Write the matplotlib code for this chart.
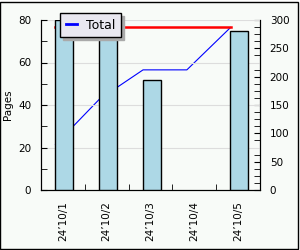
import matplotlib.pyplot as plt
from matplotlib.patches import Rectangle
from matplotlib.ticker import MultipleLocator

days = ["24\u201910/1", "24\u201910/2", "24\u201910/3", "24\u201910/4", "24\u201910/5"]
pages = [80, 80, 52, 0, 75]
total = [80, 160, 212, 212, 287]
goal = [287, 287, 287, 287, 287]

fig = plt.figure(figsize=(3, 2.5), dpi=100)
fig.patch.set_facecolor('white')
fig.patches.append(Rectangle((0.0015, 0.006), 298 / 300, 247 / 250, transform=fig.transFigure,
                             facecolor='#f8fbf8', edgecolor='black', linewidth=1, zorder=-10))

ax = fig.add_axes([41 / 300, 1 - 190 / 250, 219 / 300, 170 / 250])
ax2 = ax.twinx()
ax.set_zorder(ax2.get_zorder() + 1)
ax.patch.set_visible(False)
ax2.patch.set_facecolor('white')

x = list(range(len(days)))
xl = [i - 0.17 for i in x]

ax2.plot(xl, total, color='blue', linewidth=0.8)
ax2.plot(xl, goal, color='red', linewidth=1.8)
ax2.set_ylim(0, 300)

bars = ax.bar([i + 0.03 for i in x], pages, width=0.41, color='#add8e6', edgecolor='black', linewidth=1, zorder=3)
for b, v in zip(bars, pages):
    if v == 0:
        b.set_visible(False)
ax.set_ylim(0, 80)
ax.set_xlim(-0.5, 4.5)

ax.set_yticks([0, 20, 40, 60, 80])
ax.yaxis.set_minor_locator(MultipleLocator(10))
ax2.set_yticks([0, 50, 100, 150, 200, 250, 300])
ax2.yaxis.set_minor_locator(MultipleLocator(12.5))
ax.grid(axis='y', color='#dddddd', linewidth=0.8, zorder=0)
ax.set_axisbelow(True)

ax.set_xticks(x)
ax.set_xticklabels(days, rotation=90, fontsize=7.5)
ax.set_xticks([0.5, 1.5, 2.5, 3.5], minor=True)
ax.tick_params(axis='x', which='major', length=0, pad=8)
ax.tick_params(axis='x', which='minor', direction='in', length=4)
ax.tick_params(axis='y', which='both', direction='in', length=4, labelsize=7.5, pad=7)
ax2.tick_params(axis='y', which='both', direction='in', length=4, labelsize=7.5, pad=7)
ax2.tick_params(axis='x', length=0)

for a in (ax, ax2):
    a.spines['top'].set_visible(False)
ax.set_ylabel('Pages', fontsize=7.5, labelpad=4)

leg = fig.legend(handles=[ax2.get_lines()[0]], labels=['Total'], loc='upper left',
                 bbox_to_anchor=(60 / 300, 1 - 13 / 250), fontsize=9, frameon=True,
                 fancybox=False, shadow={'color': '#aaaaaa', 'alpha': 1}, handlelength=0.9,
                 borderpad=0.45, handletextpad=0.75, borderaxespad=0)
leg.get_frame().set_facecolor('#e9e8f0')
leg.get_frame().set_edgecolor('black')
leg.get_frame().set_alpha(1)
leg.get_lines()[0].set_linewidth(2)

fig.savefig('out.png', dpi=100, facecolor=fig.get_facecolor())
